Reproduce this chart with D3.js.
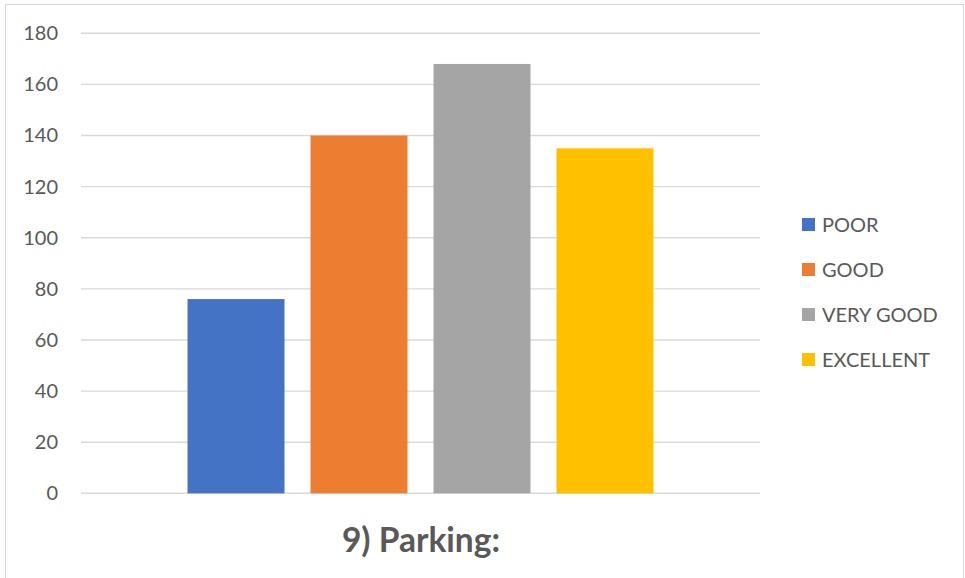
<!DOCTYPE html>
<html>
<head>
<meta charset="utf-8">
<script src="https://cdn.jsdelivr.net/npm/d3@7"></script>
<style>
  body { margin: 0; background: #fff; }
  text { font-family: Lato, "Open Sans", sans-serif; fill: #595959; }
</style>
</head>
<body>
<svg id="chart" width="965" height="578"></svg>
<script>
// data
var series = ["POOR", "GOOD", "VERY GOOD", "EXCELLENT"];
var values = [76, 140, 168, 135];
var colors = ["#4472C4", "#ED7D31", "#A5A5A5", "#FFC000"];
var yTicks = [0, 20, 40, 60, 80, 100, 120, 140, 160, 180];
var title = "9) Parking:";

var svg = d3.select("#chart");
var plot = { left: 81, right: 760, top: 33.3, bottom: 493.3 };

// chart border
svg.append("rect")
  .attr("x", 5.5).attr("y", 4.5)
  .attr("width", 958).attr("height", 590)
  .attr("fill", "none")
  .attr("stroke", "#d9d9d9")
  .attr("stroke-width", 1);

var y = d3.scaleLinear()
  .domain([0, 180])
  .range([plot.bottom, plot.top]);

var x = d3.scaleBand()
  .domain(series)
  .range([plot.left, plot.right])
  .paddingInner(0.2114)
  .paddingOuter(0.866);

// gridlines
svg.append("g")
  .selectAll("line")
  .data(yTicks)
  .enter().append("line")
  .attr("x1", plot.left)
  .attr("x2", plot.right)
  .attr("y1", function (d) { return y(d); })
  .attr("y2", function (d) { return y(d); })
  .attr("stroke", "#d9d9d9")
  .attr("stroke-width", 1.4);

// y axis labels
var yAxis = d3.axisLeft(y).tickValues(yTicks).tickSize(0).tickPadding(0);
var gy = svg.append("g")
  .attr("transform", "translate(58,0)")
  .call(yAxis);
gy.select(".domain").remove();
gy.selectAll("text")
  .style("font-family", "Lato, 'Open Sans', sans-serif")
  .style("font-size", "20px")
  .style("fill", "#595959");

// bars
svg.append("g")
  .selectAll("rect")
  .data(series)
  .enter().append("rect")
  .attr("x", function (d) { return x(d); })
  .attr("width", x.bandwidth())
  .attr("y", function (d, i) { return y(values[i]); })
  .attr("height", function (d, i) { return y(0) - y(values[i]); })
  .attr("fill", function (d, i) { return colors[i]; });

// legend
var legend = svg.append("g")
  .selectAll("g")
  .data(series)
  .enter().append("g")
  .attr("transform", function (d, i) { return "translate(802," + (225 + i * 45) + ")"; });

legend.append("rect")
  .attr("x", 0).attr("y", -7)
  .attr("width", 13).attr("height", 13)
  .attr("fill", function (d, i) { return colors[i]; });

legend.append("text")
  .attr("x", 20)
  .attr("y", 0)
  .attr("dy", "0.35em")
  .style("font-size", "20px")
  .text(function (d) { return d; });

// title
svg.append("text")
  .attr("x", 421)
  .attr("y", 552)
  .attr("text-anchor", "middle")
  .style("font-size", "33.5px")
  .style("font-weight", "bold")
  .text(title);
</script>
</body>
</html>
